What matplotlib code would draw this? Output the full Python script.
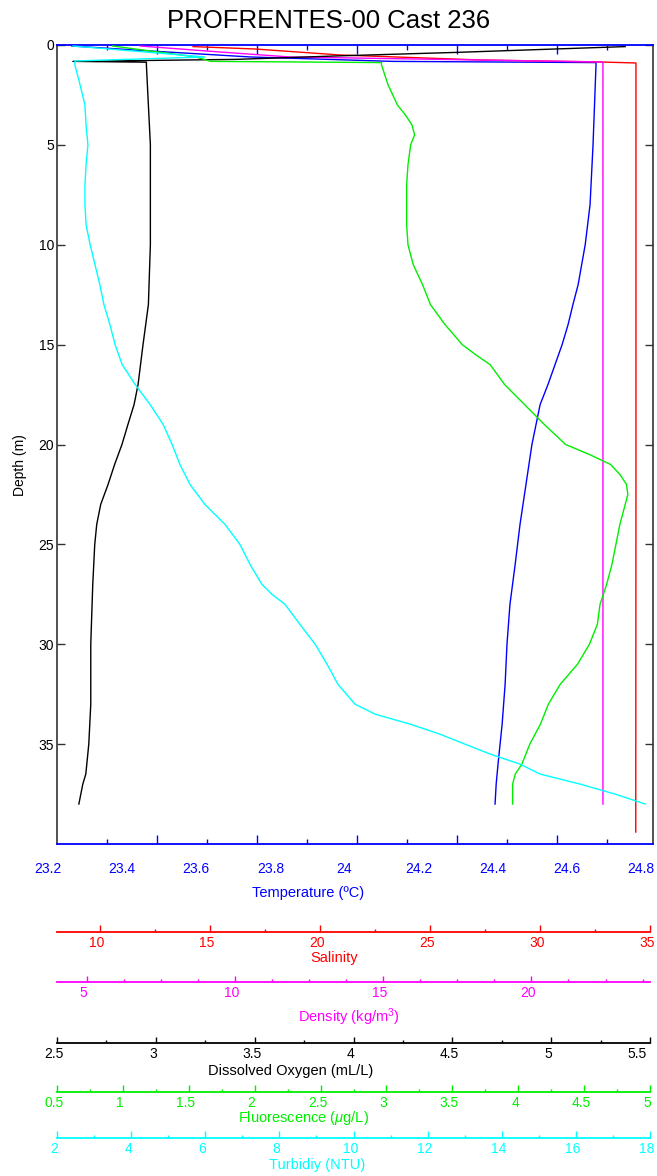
import numpy as np
import matplotlib.pyplot as plt
from matplotlib.transforms import ScaledTranslation

plt.rcParams['font.family'] = ['Liberation Sans', 'DejaVu Sans']
plt.rcParams['mathtext.fontset'] = 'custom'
plt.rcParams['mathtext.rm'] = 'Liberation Sans'
plt.rcParams['mathtext.it'] = 'Liberation Sans:italic'

W, H = 657, 1176

# --- profile data (depth in m) ---
temp_depth = [0.05, 0.3, 0.6, 0.82, 0.88, 1, 5, 8, 10, 12, 13, 14, 15, 16, 17, 18, 20,
              22, 24, 26, 28, 30, 32, 34, 36, 37, 38]
temp_vals = [23.24, 23.45, 23.72, 24.10, 24.647, 24.647, 24.639, 24.631, 24.618, 24.599,
             24.585, 24.572, 24.556, 24.537, 24.518, 24.497, 24.475, 24.459, 24.443,
             24.430, 24.416, 24.408, 24.403, 24.395, 24.384, 24.379, 24.376]

sal_depth = [0.08, 0.2, 0.5, 0.75, 0.85, 0.9, 1, 20, 39.4]
sal_vals = [14.2, 17.0, 20.85, 27.18, 32.6, 34.23, 34.23, 34.23, 34.22]

dens_depth = [0.05, 0.35, 0.6, 0.85, 0.9, 1, 20, 38]
dens_vals = [6.79, 9.47, 11.82, 22.29, 22.32, 22.32, 22.32, 22.32]

o2_depth = [0.08, 0.37, 0.55, 0.72, 0.82, 0.86, 1, 3, 5, 10, 13, 15, 17, 18, 19, 20, 21,
            22, 23, 24, 25, 27, 30, 33, 35, 36.5, 37, 38]
o2_vals = [5.36, 4.51, 3.90, 3.40, 2.58, 2.95, 2.95, 2.96, 2.97, 2.97, 2.96, 2.933, 2.908,
           2.888, 2.857, 2.827, 2.79, 2.757, 2.72, 2.70, 2.69, 2.68, 2.67, 2.67, 2.66,
           2.645, 2.63, 2.61]

fl_depth = [0.05, 0.6, 0.82, 0.88, 1, 2, 3, 3.5, 4, 4.5, 5, 6, 7, 8, 9, 10, 11, 12, 13,
            14, 15, 15.5, 16, 17, 18, 19, 20, 20.5, 21, 21.5, 22, 22.5, 23, 24, 25, 26,
            27, 28, 29, 30, 31, 32, 33, 34, 35, 36, 36.5, 37, 38]
fl_vals = [0.92, 1.55, 1.66, 2.95, 2.95, 3.00, 3.07, 3.13, 3.18, 3.20, 3.17, 3.15, 3.14,
           3.14, 3.14, 3.15, 3.19, 3.26, 3.32, 3.43, 3.56, 3.66, 3.77, 3.88, 4.03, 4.18,
           4.34, 4.52, 4.68, 4.75, 4.80, 4.81, 4.79, 4.75, 4.72, 4.69, 4.65, 4.60, 4.58,
           4.52, 4.43, 4.30, 4.21, 4.15, 4.07, 4.01, 3.96, 3.94, 3.94]

tu_depth = [0.05, 0.6, 0.8, 1, 2, 3, 4, 5, 6, 7, 8, 9, 10, 11, 12, 13, 14, 15, 16, 17,
            18, 19, 20, 21, 22, 23, 24, 25, 26, 27, 27.5, 28, 29, 30, 31, 32, 33, 33.5,
            34, 34.5, 35, 35.5, 36, 36.5, 37, 37.5, 38]
tu_vals = [2.43, 5.97, 2.48, 2.48, 2.62, 2.75, 2.78, 2.83, 2.78, 2.75, 2.75, 2.78, 2.89,
           3.02, 3.15, 3.26, 3.42, 3.56, 3.75, 4.10, 4.50, 4.85, 5.09, 5.30, 5.57, 5.97,
           6.51, 6.91, 7.18, 7.50, 7.77, 8.12, 8.52, 8.93, 9.25, 9.54, 10.00, 10.54,
           11.48, 12.28, 12.95, 13.63, 14.43, 14.97, 16.04, 16.98, 17.79]

depth_ticks = [0, 5, 10, 15, 20, 25, 30, 35]
temp_labels = [23.2, 23.4, 23.6, 23.8, 24.0, 24.2, 24.4, 24.6, 24.8]

L, R = 57, 653
fig = plt.figure(figsize=(W / 100, H / 100), dpi=100)
ax = fig.add_axes([L / W, 1 - 844 / H, (R - L) / W, 799 / H])
ax.set_ylim(40, 0)
ax.set_xlim(23.2, 24.8)
ax.plot(temp_vals, temp_depth, color='#0000ff', lw=1.0)

twins = [((8.05, 35), sal_vals, sal_depth, '#ff0000'),
         ((4.0, 24.0), dens_vals, dens_depth, '#ff00ff'),
         ((2.5, 5.5), o2_vals, o2_depth, 'black'),
         ((0.5, 5.0), fl_vals, fl_depth, '#00ee00'),
         ((2, 18), tu_vals, tu_depth, '#00ffff')]
for lims, xs, ys, c in twins:
    tw = ax.twiny()
    tw.set_xlim(*lims)
    tw.plot(xs, ys, color=c, lw=1.0)
    tw.set_axis_off()

# temperature tick marks (not aligned with the labels in the original)
step = 1.6 * 100 / (R - L)
ax.set_xticks(23.2 + step * np.arange(1, 6))
ax.set_xticks(23.2 + step * (np.arange(0, 6) + 0.5), minor=True)
ax.set_xticklabels([])
ax.tick_params(axis='x', which='both', direction='in', top=True, bottom=True,
               color='#0000ff', width=1.0)
ax.tick_params(axis='x', which='major', length=6.3)
ax.tick_params(axis='x', which='minor', length=3.3)
for s in ['top', 'bottom']:
    ax.spines[s].set_color('#0000ff')
    ax.spines[s].set_linewidth(1.3)
for s in ['left', 'right']:
    ax.spines[s].set_color('#333333')
    ax.spines[s].set_linewidth(1.2)

ax.set_yticks(depth_ticks)
ax.tick_params(axis='y', direction='in', left=True, right=True, length=5.5, width=1.0,
               labelsize=10, pad=2, color='#333333')
ax.set_ylabel('Depth (m)', fontsize=10)
ax.yaxis.set_label_coords(20 / W, 1 - 465 / H, transform=fig.transFigure)
ax.yaxis.label.set_va('center')

# temperature labels
tl = fig.add_axes([48 / W, 1 - 844 / H, 593 / W, 1e-5])
tl.set_xlim(23.2, 24.8)
tl.set_xticks(temp_labels)
tl.set_xticklabels([f'{v:g}' for v in temp_labels])
tl.set_yticks([])
for s in tl.spines.values():
    s.set_visible(False)
tl.patch.set_visible(False)
tl.tick_params(axis='x', length=0, pad=13, labelsize=10, labelcolor='#0000ff')
tl.set_xlabel('Temperature (ºC)', color='#0000ff', fontsize=10.5)
tl.xaxis.set_label_coords(308 / W, 1 - 893 / H, transform=fig.transFigure)
tl.xaxis.label.set_va('center')


def scale_axis(y_px, lims, major, minor, color, label, lx, ly, lmaj, lmin):
    a = fig.add_axes([L / W, 1 - y_px / H, (R - 3 - L) / W, 1e-5])
    a.set_xlim(*lims)
    a.set_xticks(np.arange(lims[0], lims[1] + 1e-6, minor), minor=True)
    a.set_xticks(major)
    a.set_xticklabels([f'{v:g}' for v in major])
    a.set_yticks([])
    for s in ['left', 'right', 'top']:
        a.spines[s].set_visible(False)
    a.spines['bottom'].set_color(color)
    a.spines['bottom'].set_linewidth(1.3)
    a.patch.set_visible(False)
    a.tick_params(axis='x', which='both', direction='in', color=color, width=1.0,
                  labelcolor=color, labelsize=10, pad=3)
    a.tick_params(axis='x', which='major', length=lmaj)
    a.tick_params(axis='x', which='minor', length=lmin)
    a.set_xlabel(label, color=color, fontsize=10.5)
    a.xaxis.set_label_coords(lx / W, 1 - ly / H, transform=fig.transFigure)
    a.xaxis.label.set_va('center')
    shift = ScaledTranslation(-3 / 100, 0, fig.dpi_scale_trans)
    for lab in a.get_xticklabels():
        lab.set_transform(lab.get_transform() + shift)
    return a


sal_ax = scale_axis(932, (8.05, 35), [10, 15, 20, 25, 30, 35], 2.5, '#ff0000',
                    'Salinity', 334, 958, 4.8, 2.4)
sal_ax.set_xticks(np.arange(12.5, 35, 5), minor=True)
dens_ax = scale_axis(982, (4.0, 24.0), [5, 10, 15, 20], 1.25, '#ff00ff',
                     'Density (kg/m$^3$)', 349, 1017, 4.0, 2.2)
dens_ax.set_xticks(np.arange(6.25, 24, 1.25), minor=True)
o2_ax = scale_axis(1043, (2.5, 5.5), [2.5, 3, 3.5, 4, 4.5, 5, 5.5], 0.25, 'black',
                   'Dissolved Oxygen (mL/L)', 291, 1071, 4.5, 2.4)
o2_ax.get_xticklabels()[-1].set_ha('right')
fl_ax = scale_axis(1092, (0.5, 5.0), [0.5, 1, 1.5, 2, 2.5, 3, 3.5, 4, 4.5, 5], 0.25,
                   '#00ee00', 'Fluorescence ($\\mu$g/L)', 304, 1118, 4.8, 2.2)
tu_ax = scale_axis(1138, (2, 18), [2, 4, 6, 8, 10, 12, 14, 16, 18], 1, '#00ffff',
                   'Turbidiy (NTU)', 317, 1165, 5.0, 2.4)

fig.text(329 / W, 1 - 21 / H, 'PROFRENTES-00 Cast 236', ha='center', va='center',
         fontsize=18.5)

fig.savefig('out.png', dpi=100)
